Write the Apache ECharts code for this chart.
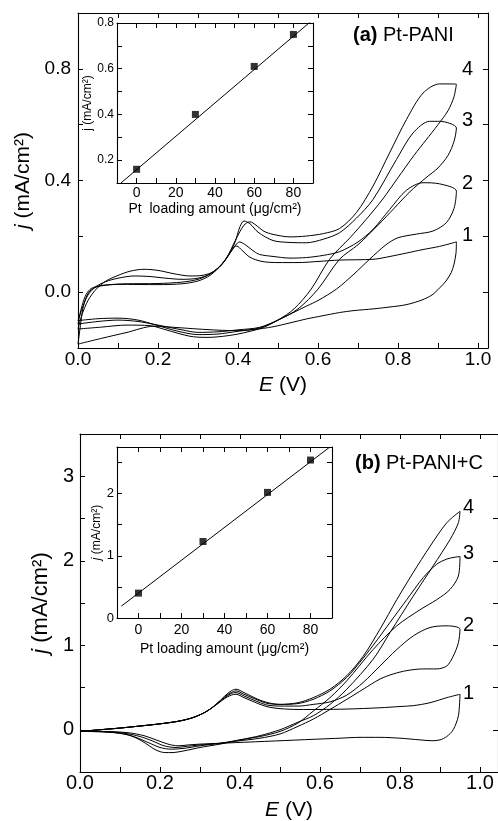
<!DOCTYPE html>
<html><head><meta charset="utf-8">
<script src="https://cdn.jsdelivr.net/npm/echarts@6/dist/echarts.min.js"></script>
<style>html,body{margin:0;padding:0;background:#fff}#c{width:498px;height:821px}</style>
</head><body><div id="c"></div><script>
// ---------- Panel (a) Pt-PANI : cyclic voltammograms [E (V), j (mA/cm2)] ----------
const curveA1 = [[0,-0.186],[0.006,-0.12],[0.012,-0.06],[0.02,-0.02],[0.03,0.005],[0.045,0.018],[0.07,0.025],[0.1,0.028],[0.2,0.027],[0.26,0.03],[0.3,0.04],[0.33,0.06],[0.36,0.1],[0.38,0.14],[0.39,0.162],[0.397,0.165],[0.41,0.15],[0.43,0.125],[0.46,0.11],[0.5,0.106],[0.55,0.106],[0.6,0.11],[0.654,0.115],[0.74,0.118],[0.78,0.128],[0.821,0.14],[0.86,0.152],[0.904,0.164],[0.946,0.18],
  [0.945,0.14],[0.94,0.1],[0.933,0.07],[0.92,0.04],[0.904,0.015],[0.885,-0.01],[0.86,-0.028],[0.82,-0.045],[0.78,-0.053],[0.7375,-0.06],[0.69,-0.066],[0.654,-0.073],[0.61,-0.085],[0.571,-0.096],[0.53,-0.11],[0.4875,-0.124],[0.44,-0.134],[0.4,-0.138],[0.35,-0.136],[0.3,-0.132],[0.25,-0.127],[0.19,-0.122],[0.12,-0.145],[0.06,-0.165],[0,-0.186]];
const curveA2 = [[0,-0.114],[0.008,-0.06],[0.018,-0.015],[0.03,0.01],[0.05,0.022],[0.08,0.027],[0.12,0.03],[0.2,0.031],[0.26,0.036],[0.3,0.046],[0.33,0.065],[0.36,0.1],[0.385,0.15],[0.404,0.18],[0.42,0.168],[0.44,0.146],[0.454,0.135],[0.4875,0.128],[0.53,0.122],[0.571,0.124],[0.614,0.132],[0.654,0.145],[0.7,0.18],[0.7375,0.225],[0.779,0.296],[0.821,0.365],[0.8625,0.392],[0.904,0.388],[0.946,0.362],
  [0.94,0.3],[0.921,0.249],[0.8875,0.219],[0.846,0.208],[0.8,0.195],[0.77,0.17],[0.729,0.118],[0.69,0.065],[0.646,0.011],[0.6,-0.03],[0.571,-0.05],[0.5,-0.1],[0.454,-0.126],[0.4,-0.135],[0.35,-0.142],[0.3,-0.144],[0.26,-0.135],[0.2,-0.118],[0.15,-0.105],[0.1,-0.1],[0.05,-0.105],[0,-0.114]];
const curveA3 = [[0,-0.102],[0.01,-0.06],[0.025,-0.01],[0.045,0.02],[0.07,0.038],[0.1,0.05],[0.14,0.058],[0.18,0.056],[0.22,0.05],[0.26,0.046],[0.3,0.05],[0.33,0.065],[0.36,0.1],[0.39,0.17],[0.405,0.235],[0.415,0.255],[0.43,0.245],[0.45,0.215],[0.4875,0.185],[0.53,0.178],[0.571,0.177],[0.614,0.19],[0.654,0.213],[0.696,0.265],[0.7375,0.332],[0.796,0.475],[0.8375,0.57],[0.879,0.612],[0.904,0.612],[0.946,0.588],
  [0.94,0.54],[0.925,0.49],[0.9,0.445],[0.87,0.41],[0.83,0.36],[0.79,0.3],[0.75,0.24],[0.7,0.17],[0.654,0.118],[0.6,0.011],[0.55,-0.06],[0.5,-0.1],[0.454,-0.128],[0.4,-0.14],[0.35,-0.15],[0.3,-0.152],[0.25,-0.14],[0.2,-0.12],[0.15,-0.1],[0.1,-0.093],[0.05,-0.095],[0,-0.102]];
const curveA4 = [[0,-0.132],[0.01,-0.08],[0.025,-0.03],[0.045,0.01],[0.07,0.04],[0.1,0.06],[0.13,0.075],[0.165,0.082],[0.2,0.078],[0.24,0.066],[0.28,0.058],[0.31,0.06],[0.34,0.075],[0.37,0.12],[0.395,0.19],[0.415,0.24],[0.43,0.252],[0.445,0.24],[0.465,0.218],[0.4875,0.207],[0.53,0.198],[0.571,0.201],[0.614,0.21],[0.654,0.228],[0.696,0.285],[0.7375,0.38],[0.779,0.499],[0.821,0.618],[0.8625,0.713],[0.904,0.746],[0.946,0.745],
  [0.94,0.7],[0.925,0.65],[0.9,0.6],[0.87,0.545],[0.84,0.49],[0.8,0.41],[0.76,0.33],[0.72,0.26],[0.68,0.195],[0.629,0.118],[0.583,0.011],[0.54,-0.06],[0.5,-0.1],[0.46,-0.128],[0.4,-0.15],[0.35,-0.16],[0.32,-0.162],[0.28,-0.158],[0.22,-0.135],[0.18,-0.12],[0.12,-0.118],[0.06,-0.125],[0,-0.132]];

// ---------- Panel (b) Pt-PANI+C ----------
const curveB1 = [[0,-0.02],[0.05,0.0],[0.1,0.02],[0.162,0.05],[0.2,0.07],[0.245,0.1],[0.28,0.14],[0.31,0.2],[0.33,0.26],[0.345,0.31],[0.362,0.37],[0.378,0.41],[0.39,0.42],[0.41,0.38],[0.445,0.31],[0.47,0.27],[0.5,0.25],[0.545,0.24],[0.6,0.24],[0.667,0.245],[0.75,0.26],[0.8,0.275],[0.833,0.285],[0.875,0.32],[0.917,0.38],[0.95,0.42],
  [0.946,0.165],[0.933,0.0],[0.917,-0.08],[0.9,-0.12],[0.88,-0.13],[0.85,-0.12],[0.8,-0.1],[0.75,-0.09],[0.7,-0.09],[0.65,-0.1],[0.6,-0.11],[0.55,-0.12],[0.5,-0.13],[0.45,-0.14],[0.4,-0.15],[0.35,-0.16],[0.3,-0.17],[0.27,-0.18],[0.245,-0.19],[0.22,-0.17],[0.19,-0.12],[0.16,-0.07],[0.12,-0.035],[0.06,-0.02],[0,-0.02]];
const curveB2 = [[0,-0.02],[0.05,0.0],[0.1,0.02],[0.162,0.05],[0.2,0.07],[0.245,0.1],[0.28,0.14],[0.31,0.2],[0.33,0.26],[0.345,0.32],[0.362,0.38],[0.378,0.43],[0.39,0.44],[0.41,0.4],[0.445,0.33],[0.47,0.29],[0.5,0.28],[0.545,0.28],[0.583,0.3],[0.625,0.33],[0.667,0.41],[0.708,0.56],[0.75,0.755],[0.792,0.95],[0.833,1.11],[0.875,1.21],[0.917,1.23],[0.95,1.19],
  [0.946,1.03],[0.933,0.87],[0.917,0.755],[0.892,0.72],[0.858,0.72],[0.817,0.7],[0.783,0.66],[0.75,0.6],[0.708,0.48],[0.667,0.36],[0.625,0.24],[0.583,0.126],[0.545,0.04],[0.5,-0.05],[0.45,-0.1],[0.4,-0.13],[0.35,-0.16],[0.3,-0.18],[0.26,-0.2],[0.24,-0.21],[0.21,-0.19],[0.18,-0.13],[0.15,-0.08],[0.11,-0.04],[0.06,-0.025],[0,-0.02]];
const curveB3 = [[0,-0.02],[0.05,0.0],[0.1,0.02],[0.162,0.05],[0.2,0.07],[0.245,0.1],[0.28,0.14],[0.31,0.2],[0.33,0.26],[0.345,0.32],[0.362,0.39],[0.378,0.44],[0.39,0.46],[0.41,0.42],[0.445,0.35],[0.47,0.31],[0.5,0.3],[0.545,0.31],[0.583,0.36],[0.625,0.46],[0.667,0.62],[0.7,0.8],[0.733,1.0],[0.775,1.27],[0.817,1.54],[0.858,1.8],[0.892,1.96],[0.917,2.02],[0.935,2.04],[0.95,2.05],
  [0.946,1.82],[0.925,1.66],[0.892,1.54],[0.85,1.42],[0.792,1.23],[0.733,0.95],[0.667,0.58],[0.625,0.38],[0.583,0.22],[0.545,0.08],[0.5,-0.02],[0.45,-0.08],[0.4,-0.12],[0.35,-0.16],[0.3,-0.19],[0.26,-0.22],[0.228,-0.23],[0.2,-0.21],[0.17,-0.15],[0.14,-0.09],[0.11,-0.05],[0.06,-0.025],[0,-0.02]];
const curveB4 = [[0,-0.02],[0.05,0.0],[0.1,0.02],[0.162,0.05],[0.2,0.07],[0.245,0.1],[0.28,0.14],[0.31,0.2],[0.33,0.26],[0.345,0.32],[0.362,0.4],[0.378,0.46],[0.39,0.48],[0.41,0.44],[0.445,0.36],[0.47,0.32],[0.5,0.3],[0.545,0.32],[0.583,0.38],[0.625,0.48],[0.667,0.64],[0.708,0.87],[0.75,1.19],[0.792,1.54],[0.833,1.86],[0.875,2.17],[0.917,2.45],[0.95,2.585],
  [0.946,2.45],[0.925,2.25],[0.883,1.94],[0.833,1.58],[0.775,1.15],[0.733,0.835],[0.667,0.48],[0.625,0.3],[0.583,0.165],[0.545,0.09],[0.5,0.0],[0.45,-0.07],[0.4,-0.12],[0.35,-0.17],[0.3,-0.21],[0.26,-0.25],[0.23,-0.27],[0.212,-0.27],[0.19,-0.24],[0.17,-0.18],[0.15,-0.12],[0.12,-0.06],[0.08,-0.03],[0.04,-0.02],[0,-0.02]];

// ---------- Insets: peak current vs Pt loading ----------
const ptLoading = [0, 30, 60, 80];
const insetA_j = [0.16, 0.40, 0.61, 0.75];
const insetB_j = [0.40, 1.23, 2.02, 2.54];
const fitA = [[-8, 0.10], [90, 0.815]];
const fitB = [[-8, 0.19], [89, 2.75]];

const curveLabels = ['1', '2', '3', '4'];

const FONT = '"Liberation Sans", Arial, Helvetica, sans-serif';
const near = (a, b) => Math.abs(a - b) < 1e-6;
function fmtStep(scale, mod, dec) {
  return v => { const s = v * scale, k = Math.round(s); if (!near(s, k) || k % mod !== 0) return ''; return dec >= 0 ? (k / scale).toFixed(dec) : String(k / scale); };
}
const fmtInsetX = v => { const k = Math.round(v); return (near(v, k) && k % 20 === 0 && k >= 0 && k <= 80) ? String(k) : ''; };

const xAxes = [], yAxes = [];
function addAxes(g, xo, yo) {
  const tick = { show: true, inside: true, length: 5, lineStyle: { color: '#000', width: 1 } };
  const line = { show: true, onZero: false, lineStyle: { color: '#000', width: 1.1 } };
  xAxes.push(Object.assign({ type: 'value', gridIndex: g, position: 'bottom', axisLine: line, axisTick: tick, splitLine: { show: false },
    axisLabel: { color: '#000', fontFamily: FONT, fontSize: xo.fs, margin: xo.margin, formatter: xo.fmt, showMinLabel: true, showMaxLabel: true },
    name: xo.name, nameLocation: 'middle', nameGap: xo.nameGap, nameTextStyle: { color: '#000', fontFamily: FONT, fontSize: xo.nfs, rich: { i: { fontStyle: 'italic', fontFamily: FONT, fontSize: xo.nfs, color: '#000' } } } }, { min: xo.min, max: xo.max, interval: xo.interval }));
  xAxes.push({ type: 'value', gridIndex: g, position: 'top', min: xo.min, max: xo.max, interval: xo.interval, axisLine: line, axisTick: tick, axisLabel: { show: false }, splitLine: { show: false } });
  yAxes.push(Object.assign({ type: 'value', gridIndex: g, position: 'left', axisLine: line, axisTick: tick, splitLine: { show: false },
    axisLabel: { color: '#000', fontFamily: FONT, fontSize: yo.fs, margin: yo.margin, formatter: yo.fmt, showMinLabel: true, showMaxLabel: true },
    name: yo.name, nameLocation: 'middle', nameGap: yo.nameGap, nameRotate: 90, nameTextStyle: { color: '#000', fontFamily: FONT, fontSize: yo.nfs, rich: { i: { fontStyle: 'italic', fontFamily: FONT, fontSize: yo.nfs, color: '#000' } } } }, { min: yo.min, max: yo.max, interval: yo.interval }));
  yAxes.push({ type: 'value', gridIndex: g, position: 'right', min: yo.min, max: yo.max, interval: yo.interval, axisLine: line, axisTick: tick, axisLabel: { show: false }, splitLine: { show: false } });
}

// grid 0: main (a)
addAxes(0, { min: 0, max: 1.025, interval: 0.1, fmt: fmtStep(10, 2, 1), fs: 19, margin: 2, name: '{i|E} (V)', nameGap: 27, nfs: 21 },
           { min: -0.2, max: 1.0, interval: 0.2, fmt: fmtStep(10, 4, 1), fs: 19, margin: 7, name: '{i|j} (mA/cm²)', nameGap: 40, nfs: 21 });
// grid 1: inset (a)
addAxes(1, { min: -10, max: 90, interval: 10, fmt: fmtInsetX, fs: 14, margin: 3, name: 'Pt  loading amount (μg/cm²)', nameGap: 19, nfs: 14 },
           { min: 0.1, max: 0.8, interval: 0.1, fmt: fmtStep(10, 2, 1), fs: 12, margin: 3, name: 'j (mA/cm²)', nameGap: 14, nfs: 12 });
// grid 2: main (b)
addAxes(2, { min: 0, max: 1.045, interval: 0.1, fmt: fmtStep(10, 2, 1), fs: 20, margin: 1, name: '{i|E} (V)', nameGap: 28, nfs: 21 },
           { min: -0.5, max: 3.5, interval: 0.5, fmt: fmtStep(2, 2, -1), fs: 20, margin: 6, name: '{i|j} (mA/cm²)', nameGap: 27, nfs: 22 });
// grid 3: inset (b)
addAxes(3, { min: -10, max: 90, interval: 10, fmt: fmtInsetX, fs: 14, margin: 5, name: 'Pt loading amount (μg/cm²)', nameGap: 24, nfs: 14 },
           { min: 0, max: 2.75, interval: 0.5, fmt: fmtStep(2, 2, -1), fs: 13, margin: 3, name: '{i|j} (mA/cm²)', nameGap: 11, nfs: 12 });

const grids = [
  { left: 78, top: 13, width: 410, height: 335 },
  { left: 117, top: 23, width: 196, height: 160 },
  { left: 80, top: 434, width: 418, height: 338 },
  { left: 117, top: 447, width: 215, height: 171 }
].map(g => Object.assign({ outerBoundsMode: 'none', containLabel: false }, g));

function cv(data, g) {
  return { type: 'line', xAxisIndex: 2 * g, yAxisIndex: 2 * g, data: data, showSymbol: false, smooth: 0.3,
    lineStyle: { color: '#000', width: 1 }, silent: true, animation: false, clip: true };
}
const series = [
  cv(curveA1, 0), cv(curveA2, 0), cv(curveA3, 0), cv(curveA4, 0),
  cv(curveB1, 2), cv(curveB2, 2), cv(curveB3, 2), cv(curveB4, 2),
  { type: 'line', xAxisIndex: 2, yAxisIndex: 2, data: fitA, showSymbol: false, lineStyle: { color: '#000', width: 1 }, animation: false, clip: true },
  { type: 'scatter', xAxisIndex: 2, yAxisIndex: 2, data: ptLoading.map((x, i) => [x, insetA_j[i]]), symbol: 'rect', symbolSize: 7, itemStyle: { color: '#000' }, animation: false },
  { type: 'line', xAxisIndex: 6, yAxisIndex: 6, data: fitB, showSymbol: false, lineStyle: { color: '#000', width: 1 }, animation: false, clip: true },
  { type: 'scatter', xAxisIndex: 6, yAxisIndex: 6, data: ptLoading.map((x, i) => [x, insetB_j[i]]), symbol: 'rect', symbolSize: 7, itemStyle: { color: '#000' }, animation: false }
];

function txt(x, y, text, size, rich) {
  return { type: 'text', x: x, y: y, silent: true, style: { text: text, fill: '#000', font: size + 'px ' + FONT, align: 'left', verticalAlign: 'middle', rich: rich } };
}
const boldRich = { b: { fontWeight: 'bold', fontSize: 20, fontFamily: FONT, fill: '#000', color: '#000' } };
const numPosA = [[462, 235], [462, 183], [462, 120], [462, 69]];
const numPosB = [[463, 693], [463, 625], [463, 553], [463, 507]];
const graphics = [
  txt(353, 35, '{b|(a)} Pt-PANI', 20, boldRich),
  txt(355, 463, '{b|(b)} Pt-PANI+C', 20, boldRich)
];
curveLabels.forEach((t, i) => { graphics.push(txt(numPosA[i][0], numPosA[i][1], t, 20)); graphics.push(txt(numPosB[i][0], numPosB[i][1], t, 20)); });

const chart = echarts.init(document.getElementById('c'), null, { renderer: 'canvas' });
chart.setOption({ animation: false, backgroundColor: '#fff', grid: grids, xAxis: xAxes, yAxis: yAxes, series: series, graphic: graphics });
</script></body></html>
